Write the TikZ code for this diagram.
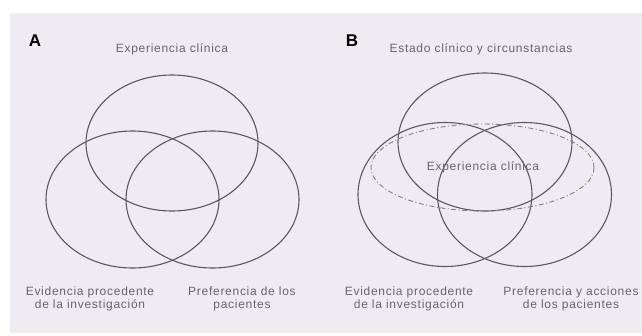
\documentclass[tikz,border=0pt]{standalone}
\usepackage{fontspec}
\setmainfont{Liberation Sans}
\newfontfamily\lblfont[LetterSpace=6]{Liberation Sans}
\definecolor{bgpanel}{HTML}{EEECF0}
\definecolor{linecol}{HTML}{5A5A5E}
\definecolor{textcol}{HTML}{66666A}
\begin{document}
\begin{tikzpicture}[x=1pt,y=-1pt,
  ring/.style={draw=linecol,line width=1.1pt},
  dashring/.style={draw=linecol!75,line width=0.9pt,dash pattern=on 5pt off 2.5pt on 1pt off 2.5pt},
  lbl/.style={font=\lblfont\fontsize{12}{12.5}\selectfont,text=textcol,align=center,inner sep=0pt},
  panel/.style={font=\bfseries\fontsize{17}{17}\selectfont,text=black,inner sep=0pt}]
\useasboundingbox[fill=white] (0,0) rectangle (642,335);
\fill[bgpanel] (10,13) rectangle (642,333);
% Panel A
\node[panel] (labA) at (35,41) {A};
\node[lbl] (topA) at (172,49) {Experiencia clínica};
\draw[ring] (172,143) ellipse [x radius=86, y radius=68];
\draw[ring] (132.5,199.5) ellipse [x radius=86.5, y radius=68.5];
\draw[ring] (212.5,199.5) ellipse [x radius=86.5, y radius=68.5];
\node[lbl] (leftA) at (90,299) {Evidencia procedente\\de la investigación};
\node[lbl] (rightA) at (242,299) {Preferencia de los\\pacientes};
% Panel B
\node[panel] (labB) at (352,41) {B};
\node[lbl] (topB) at (481,49) {Estado clínico y circunstancias};
\draw[ring] (485,142) ellipse [x radius=87, y radius=69];
\draw[ring] (445,194.5) ellipse [x radius=87, y radius=72];
\draw[ring] (524.5,194.5) ellipse [x radius=87, y radius=72];
\draw[dashring] (482.5,167.5) ellipse [x radius=111.5, y radius=43.5];
\node[lbl] (midB) at (483,167) {Experiencia clínica};
\node[lbl] (leftB) at (409,299) {Evidencia procedente\\de la investigación};
\node[lbl] (rightB) at (571,299) {Preferencia y acciones\\de los pacientes};
\end{tikzpicture}
\end{document}
